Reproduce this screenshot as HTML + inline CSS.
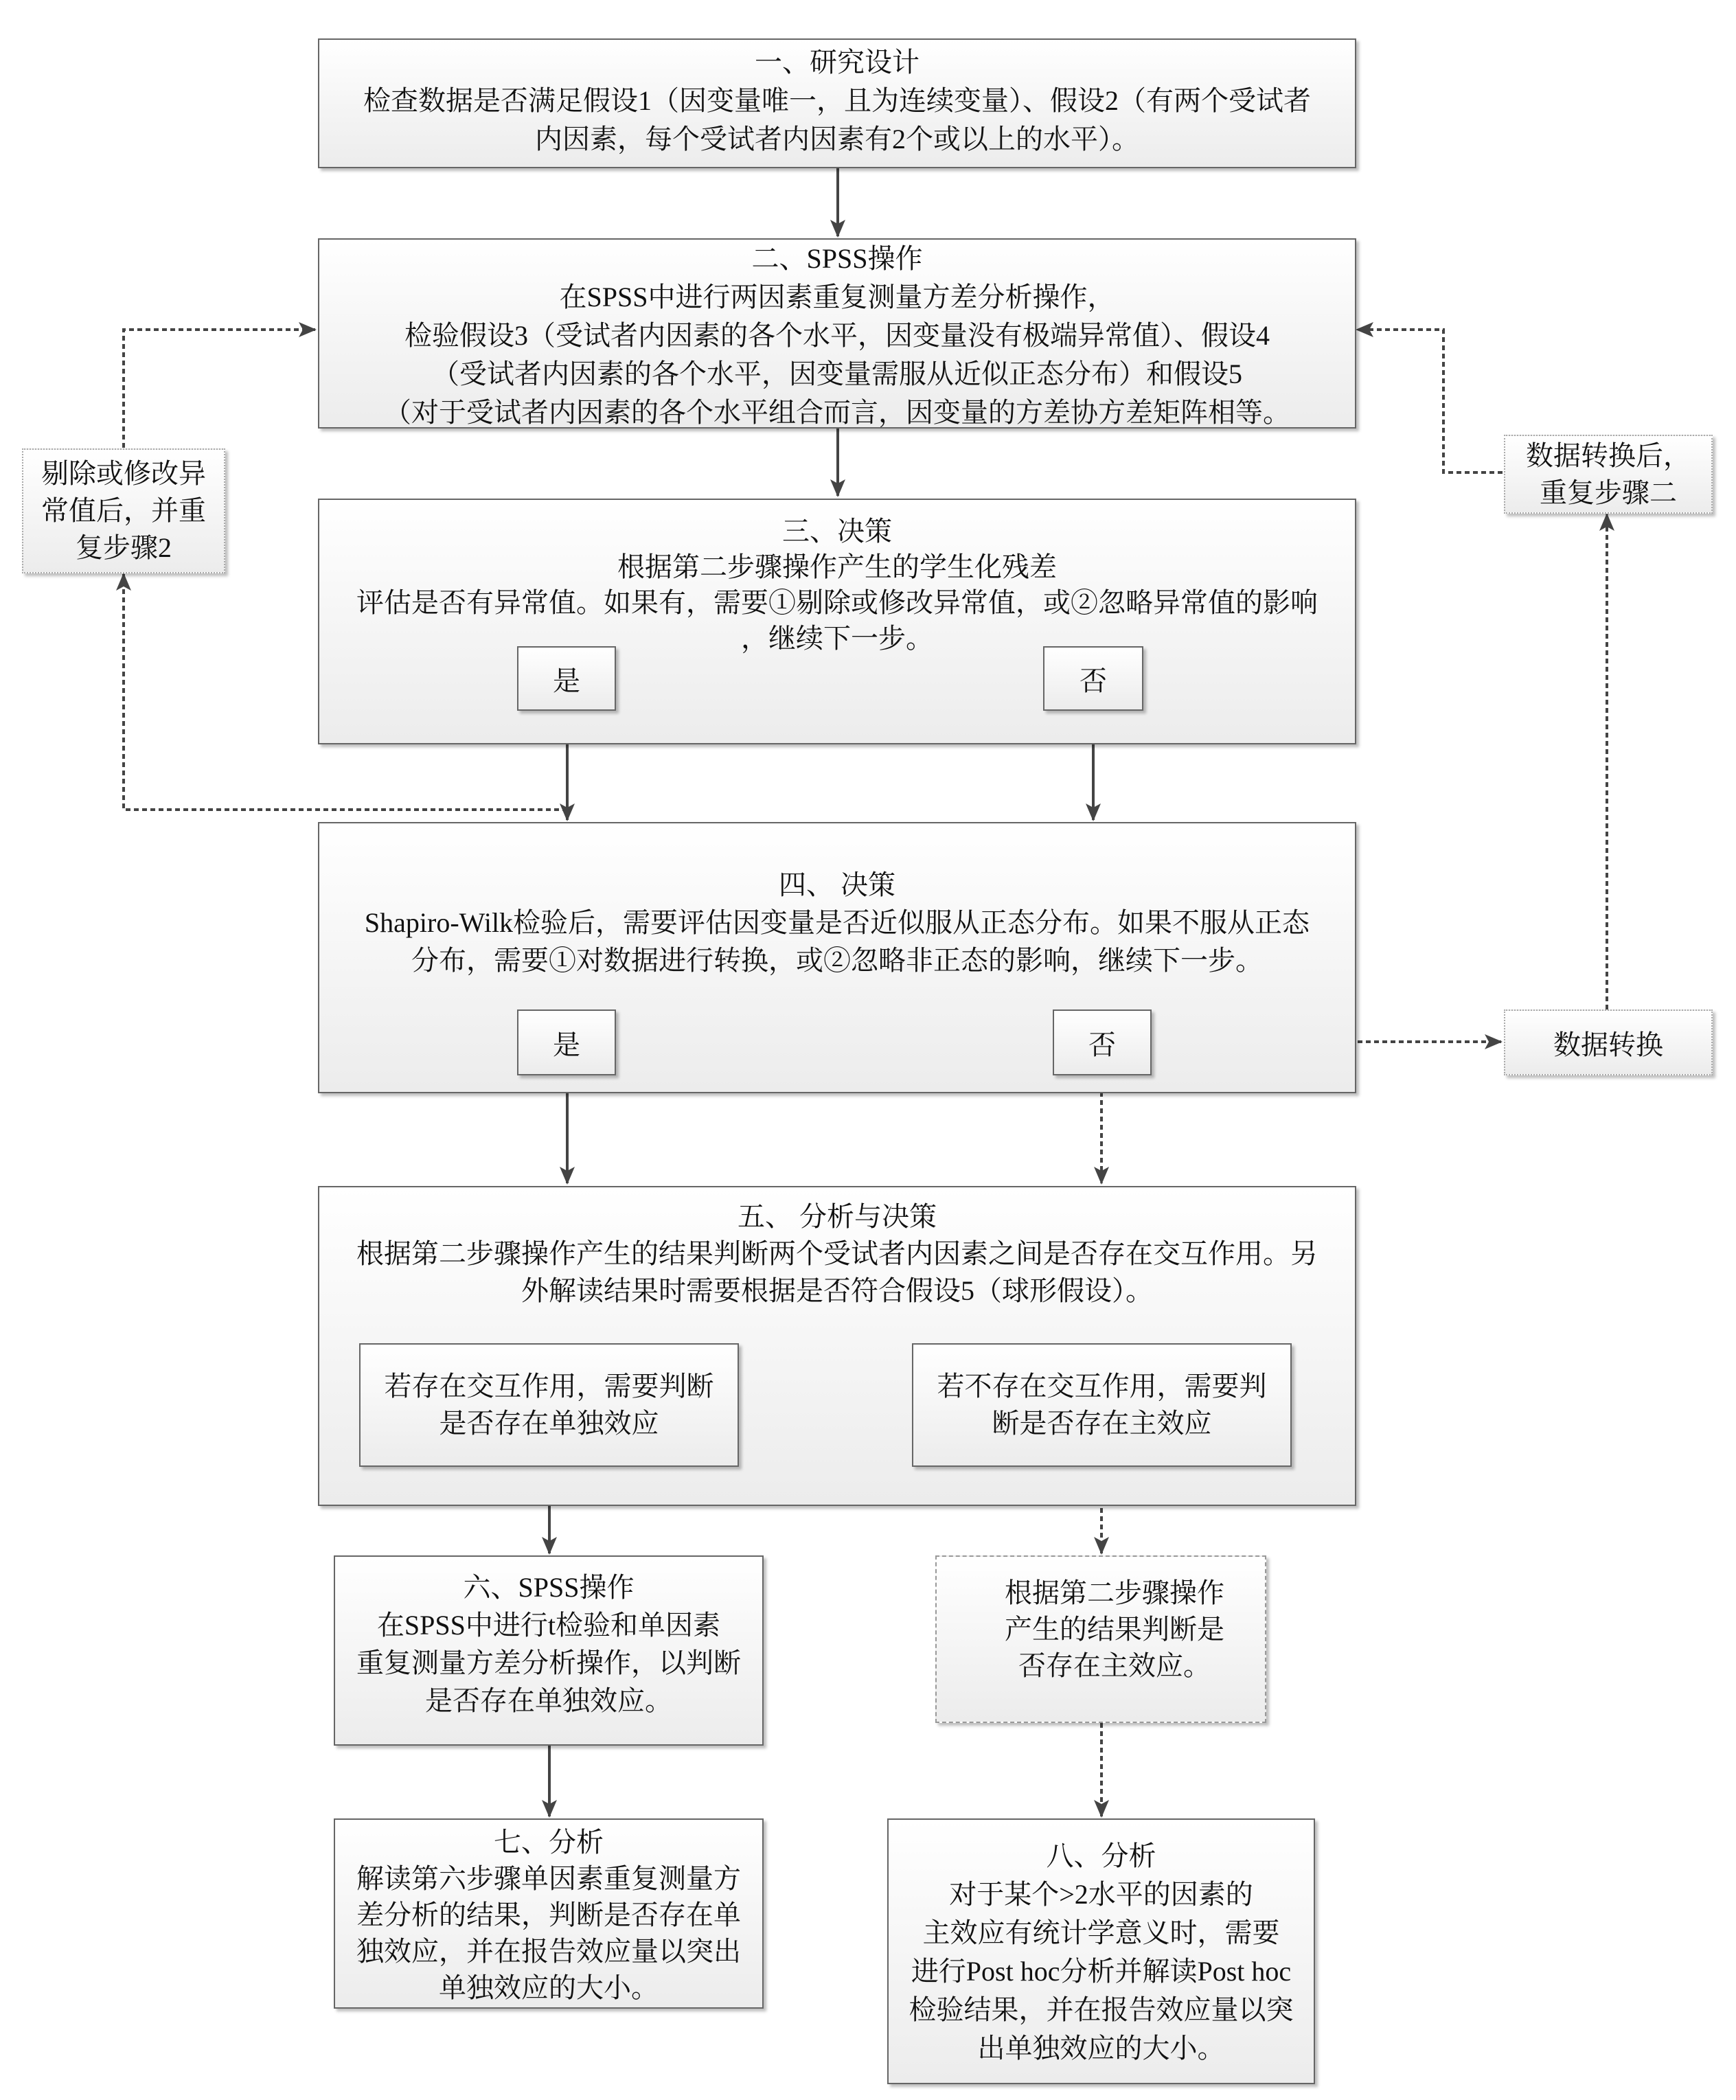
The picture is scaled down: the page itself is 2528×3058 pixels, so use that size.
<!DOCTYPE html>
<html><head><meta charset="utf-8"><style>
body{margin:0;width:2528px;height:3058px;background:#fff;position:relative;overflow:hidden;font-family:"Liberation Serif","Noto Serif CJK SC",serif;color:#111}
.b{position:absolute;box-sizing:border-box;border:2px solid #666;background:linear-gradient(#fff,#ececec);box-shadow:4px 4px 4px rgba(0,0,0,.25);text-align:center;font-size:40px}
.c{display:flex;align-items:center;justify-content:center}
svg{position:absolute;left:0;top:0}
</style></head><body>
<svg width="2528" height="3058">
<defs><marker id="a" markerWidth="10" markerHeight="10" refX="9" refY="5" orient="auto" markerUnits="userSpaceOnUse" viewBox="0 0 10 10"><path d="M0,0L10,5L0,10z" fill="#444"/></marker>
<marker id="m" markerWidth="26" markerHeight="26" refX="24" refY="13" orient="auto" markerUnits="userSpaceOnUse"><path d="M0,2L26,13L0,24L6,13z" fill="#444"/></marker></defs>
<g stroke="#444" stroke-width="4" fill="none">
<line x1="1220" y1="245" x2="1220" y2="344" marker-end="url(#m)"/>
<line x1="1220" y1="624" x2="1220" y2="722" marker-end="url(#m)"/>
<line x1="826" y1="1035" x2="826" y2="1194" marker-end="url(#m)"/>
<line x1="1592" y1="1035" x2="1592" y2="1194" marker-end="url(#m)"/>
<line x1="826" y1="1566" x2="826" y2="1723" marker-end="url(#m)"/>
<line x1="800" y1="2136" x2="800" y2="2262" marker-end="url(#m)"/>
<line x1="800" y1="2542" x2="800" y2="2645" marker-end="url(#m)"/>
</g>
<g stroke="#444" stroke-width="4" fill="none" stroke-dasharray="7,5">
<polyline points="180,652 180,480 459,480" marker-end="url(#m)"/>
<polyline points="826,1179 180,1179 180,836" marker-end="url(#m)"/>
<polyline points="2188,688 2102,688 2102,480 1976,480" marker-end="url(#m)"/>
<polyline points="2340,1470 2340,749" marker-end="url(#m)"/>
<line x1="1677" y1="1517" x2="2186" y2="1517" marker-end="url(#m)"/>
<line x1="1604" y1="1566" x2="1604" y2="1723" marker-end="url(#m)"/>
<line x1="1604" y1="2136" x2="1604" y2="2262" marker-end="url(#m)"/>
<line x1="1604" y1="2509" x2="1604" y2="2645" marker-end="url(#m)"/>
</g></svg>

<div class="b" style="left:463px;top:56px;width:1512px;height:189px;line-height:56px;padding-top:5px">一、研究设计<br>检查数据是否满足假设1（因变量唯一，且为连续变量）、假设2（有两个受试者<br>内因素，每个受试者内因素有2个或以上的水平）。</div>

<div class="b" style="left:463px;top:347px;width:1512px;height:277px;line-height:56px;padding-top:0">二、SPSS操作<br>在SPSS中进行两因素重复测量方差分析操作，<br>检验假设3（受试者内因素的各个水平，因变量没有极端异常值）、假设4<br>（受试者内因素的各个水平，因变量需服从近似正态分布）和假设5<br>（对于受试者内因素的各个水平组合而言，因变量的方差协方差矩阵相等。</div>

<div class="b" style="left:463px;top:726px;width:1512px;height:358px;line-height:52px;padding-top:20px">三、决策<br>根据第二步骤操作产生的学生化残差<br>评估是否有异常值。如果有，需要①剔除或修改异常值，或②忽略异常值的影响<br>，继续下一步。</div>
<div class="b c" style="left:753px;top:941px;width:144px;height:94px">是</div>
<div class="b c" style="left:1519px;top:941px;width:146px;height:94px">否</div>

<div class="b c" style="left:32px;top:653px;width:296px;height:182px;border:2px dotted #aaa;line-height:54px">剔除或修改异<br>常值后，并重<br>复步骤2</div>
<div class="b c" style="left:2190px;top:633px;width:304px;height:115px;border:2px dotted #aaa;line-height:54px">数据转换后，<br>重复步骤二</div>

<div class="b" style="left:463px;top:1197px;width:1512px;height:395px;line-height:55px;padding-top:62px">四、 决策<br>Shapiro-Wilk检验后，需要评估因变量是否近似服从正态分布。如果不服从正态<br>分布，需要①对数据进行转换，或②忽略非正态的影响，继续下一步。</div>
<div class="b c" style="left:753px;top:1470px;width:144px;height:96px">是</div>
<div class="b c" style="left:1533px;top:1470px;width:144px;height:96px">否</div>
<div class="b c" style="left:2190px;top:1470px;width:304px;height:96px;border:2px dotted #aaa">数据转换</div>

<div class="b" style="left:463px;top:1727px;width:1512px;height:466px;line-height:54px;padding-top:16px">五、 分析与决策<br>根据第二步骤操作产生的结果判断两个受试者内因素之间是否存在交互作用。另<br>外解读结果时需要根据是否符合假设5（球形假设）。</div>
<div class="b c" style="left:523px;top:1956px;width:553px;height:180px;line-height:54px">若存在交互作用，需要判断<br>是否存在单独效应</div>
<div class="b c" style="left:1328px;top:1956px;width:553px;height:180px;line-height:54px">若不存在交互作用，需要判<br>断是否存在主效应</div>

<div class="b" style="left:486px;top:2265px;width:626px;height:277px;line-height:55px;padding-top:17px">六、SPSS操作<br>在SPSS中进行t检验和单因素<br>重复测量方差分析操作，以判断<br>是否存在单独效应。</div>
<div class="b c" style="left:1362px;top:2265px;width:482px;height:244px;border:2px dashed #999;line-height:53px;padding-left:40px;padding-bottom:30px">根据第二步骤操作<br>产生的结果判断是<br>否存在主效应。</div>

<div class="b" style="left:486px;top:2648px;width:626px;height:277px;line-height:53px;padding-top:6px">七、分析<br>解读第六步骤单因素重复测量方<br>差分析的结果，判断是否存在单<br>独效应，并在报告效应量以突出<br>单独效应的大小。</div>
<div class="b" style="left:1292px;top:2648px;width:623px;height:387px;line-height:56px;padding-top:25px">八、分析<br>对于某个&gt;2水平的因素的<br>主效应有统计学意义时，需要<br>进行Post hoc分析并解读Post hoc<br>检验结果，并在报告效应量以突<br>出单独效应的大小。</div>
</body></html>
